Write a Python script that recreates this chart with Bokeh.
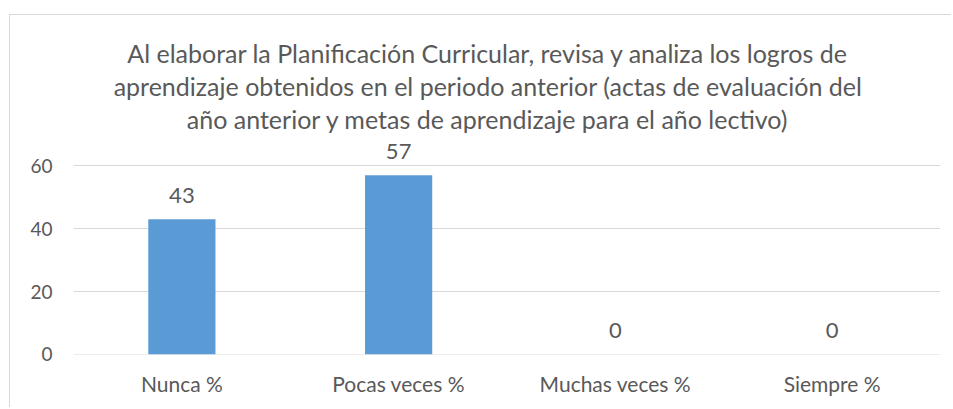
from bokeh.plotting import figure
from bokeh.models import FactorRange, Range1d, Label, FixedTicker, ColumnDataSource
from bokeh.core.properties import value
from bokeh.embed import file_html
from bokeh.resources import INLINE

categories = ["Nunca %", "Pocas veces %", "Muchas veces %", "Siempre %"]
values = [43, 57, 0, 0]
y_ticks = [0, 20, 40, 60]
title_lines = [
    "Al elaborar la Planificación Curricular, revisa y analiza los logros de",
    "aprendizaje obtenidos en el periodo anterior (actas de evaluación del",
    "año anterior y metas de aprendizaje para el año lectivo)",
]

FONT = "Lato"
TXT = "#595959"
GRID = "#D9D9D9"
BAR = "#5B9BD5"

src = ColumnDataSource(dict(cat=categories, val=values, lab=[str(v) for v in values]))

p = figure(
    x_range=FactorRange(*categories),
    y_range=Range1d(-0.02, 103),
    width=942, height=393,
    output_backend="svg", toolbar_location=None,
    min_border_left=63, min_border_right=12,
    min_border_top=15, min_border_bottom=54,
)
p.margin = (14, 0, 0, 9)
p.styles = {"border-top": "1px solid #D9D9D9", "border-left": "1px solid #D9D9D9"}
p.outline_line_color = None
p.background_fill_color = "white"
p.border_fill_color = "white"

p.vbar(x="cat", top="val", width=0.31, source=src, fill_color=BAR, line_color=None)
p.text(x="cat", y="val", text="lab", source=src, text_align="center",
       text_baseline="alphabetic", y_offset=-24,
       text_font=value(FONT), text_font_size="22px", text_color=TXT)

p.xgrid.visible = False
p.yaxis.ticker = FixedTicker(ticks=y_ticks)
p.ygrid.grid_line_color = GRID
p.ygrid.grid_line_width = 1
p.ygrid.cross_bounds = (0, 4)

for ax in (p.xaxis[0], p.yaxis[0]):
    ax.major_tick_out = 0
    ax.major_tick_in = 0
    ax.minor_tick_out = 0
    ax.minor_tick_in = 0
    ax.major_tick_line_color = None
    ax.minor_tick_line_color = None
    ax.axis_line_color = None
    ax.major_label_text_font = FONT
    ax.major_label_text_color = TXT

p.xaxis.major_label_text_font_size = "21px"
p.yaxis.major_label_text_font_size = "19px"
p.yaxis.major_label_standoff = 21
p.xaxis.major_label_standoff = 16

for line, y in zip(title_lines, [302, 269, 236]):
    p.add_layout(Label(x=414.5, y=y, x_units="screen", y_units="screen", text=line,
                       text_align="center", text_baseline="alphabetic",
                       text_font=FONT, text_font_size="25px", text_color=TXT))

open("out.html", "w").write(file_html(p, INLINE))
